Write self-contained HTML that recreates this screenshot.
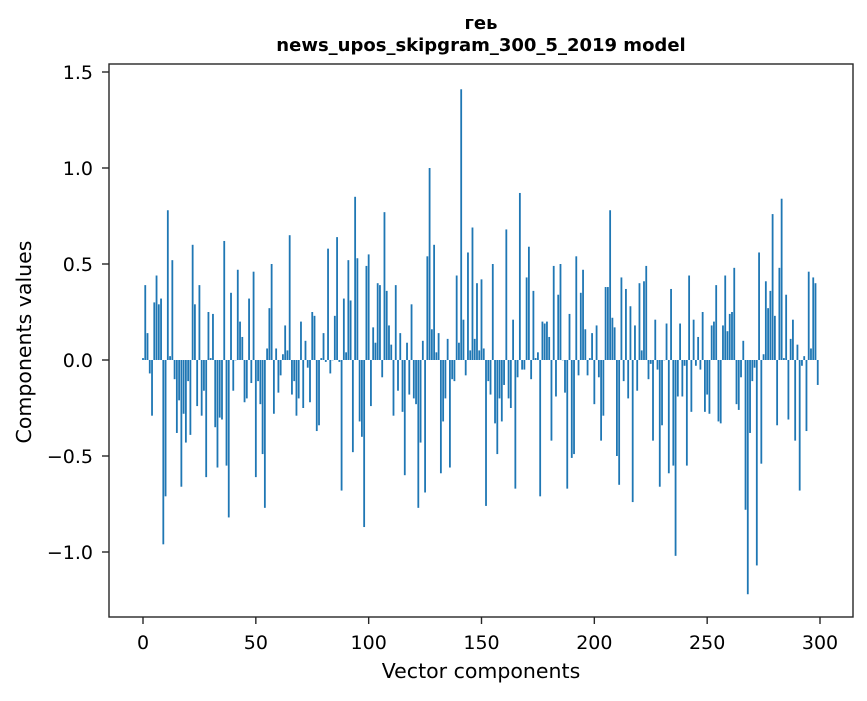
<!DOCTYPE html>
<html><head><meta charset="utf-8"><style>
body{margin:0;background:#fff;}
svg text{font-family:"DejaVu Sans","Liberation Sans",sans-serif;fill:#000;}
</style></head><body>
<svg id="chart" width="867" height="696" viewBox="0 0 867 696" xmlns="http://www.w3.org/2000/svg">
<rect x="0" y="0" width="867" height="696" fill="#fff"/>
<text x="481" y="29" text-anchor="middle" font-size="18" font-weight="bold">геь</text>
<text x="481" y="51" text-anchor="middle" font-size="18" font-weight="bold">news_upos_skipgram_300_5_2019 model</text>
<g id="bars"></g>
<g id="axes"></g>
<rect x="109" y="64" width="744" height="553" fill="none" stroke="#262626" stroke-width="1.4"/>
<text x="481" y="678" text-anchor="middle" font-size="20.5">Vector components</text>
<text transform="translate(31,342) rotate(-90)" text-anchor="middle" font-size="20.5">Components values</text>
</svg>
<script>
const values = [
0.01,0.39,0.14,-0.07,-0.29,0.30,0.44,0.29,0.32,-0.96,
-0.71,0.78,0.02,0.52,-0.10,-0.38,-0.21,-0.66,-0.28,-0.43,
-0.11,-0.39,0.60,0.29,-0.24,0.39,-0.29,-0.16,-0.61,0.25,
0.01,0.24,-0.35,-0.56,-0.30,-0.31,0.62,-0.55,-0.82,0.35,
-0.16,0.00,0.47,0.20,0.12,-0.22,-0.20,0.32,-0.12,0.46,
-0.61,-0.11,-0.23,-0.49,-0.77,0.06,0.27,0.50,-0.28,0.06,
-0.17,-0.08,0.03,0.18,0.05,0.65,-0.18,-0.11,-0.29,-0.20,
0.20,-0.25,0.10,-0.04,-0.22,0.25,0.23,-0.37,-0.34,0.01,
0.14,-0.01,0.58,-0.07,0.00,0.23,0.64,-0.01,-0.68,0.32,
0.04,0.52,0.31,-0.48,0.85,0.53,-0.32,-0.40,-0.87,0.49,
0.55,-0.24,0.17,0.09,0.40,0.39,-0.09,0.77,0.36,0.18,
0.08,-0.29,0.39,-0.16,0.14,-0.27,-0.60,0.09,-0.18,0.29,
-0.20,-0.23,-0.77,-0.43,0.10,-0.69,0.54,1.00,0.16,0.60,
0.04,0.14,-0.59,-0.32,-0.20,0.11,-0.56,-0.10,-0.11,0.44,
0.09,1.41,0.21,-0.08,0.56,0.05,0.69,0.11,0.40,0.05,
0.42,0.06,-0.76,-0.11,-0.18,0.50,-0.33,-0.49,-0.20,-0.32,
-0.13,0.68,-0.20,-0.25,0.21,-0.67,-0.09,0.87,-0.05,-0.05,
0.43,0.59,-0.10,0.36,0.01,0.04,-0.71,0.20,0.19,0.20,
0.12,-0.42,0.49,-0.19,0.34,0.50,0.00,-0.17,-0.67,0.24,
-0.51,-0.49,0.54,-0.08,0.35,0.47,0.16,-0.08,0.01,0.14,
-0.23,0.18,-0.09,-0.42,-0.29,0.38,0.38,0.78,0.22,0.17,
-0.50,-0.65,0.43,-0.11,0.37,-0.20,0.28,-0.74,0.18,-0.16,
0.40,0.05,0.41,0.49,-0.10,-0.02,-0.42,0.21,-0.05,-0.66,
-0.34,0.00,0.19,-0.59,0.37,-0.55,-1.02,-0.19,0.19,-0.19,
-0.03,-0.55,0.44,-0.27,0.21,-0.03,0.12,-0.05,0.25,-0.27,
-0.18,-0.28,0.18,0.20,0.39,-0.32,-0.33,0.18,0.44,0.15,
0.24,0.25,0.48,-0.23,-0.26,-0.09,0.10,-0.78,-1.22,-0.38,
-0.11,-0.04,-1.07,0.56,-0.54,0.03,0.41,0.27,0.36,0.76,
0.23,-0.34,0.48,0.84,0.01,0.34,-0.31,0.11,0.21,-0.42,
0.08,-0.68,-0.03,0.02,-0.37,0.46,0.06,0.43,0.40,-0.13
];
const xTicks = [0,50,100,150,200,250,300];
const yTicks = [-1.0,-0.5,0.0,0.5,1.0,1.5];
const yTickLabels = ["−1.0","−0.5","0.0","0.5","1.0","1.5"];

const NS = "http://www.w3.org/2000/svg";
function xs(v){ return 143 + v*(820-143)/300; }
function ys(v){ return 360 - v*192; }
const barsG = document.getElementById('bars');
const axesG = document.getElementById('axes');
const bw = 0.8;
values.forEach((v,i)=>{
  const r = document.createElementNS(NS,'rect');
  const x0 = xs(i - bw/2), x1 = xs(i + bw/2);
  const y0 = Math.min(ys(v), ys(0)), y1 = Math.max(ys(v), ys(0));
  r.setAttribute('x', x0);
  r.setAttribute('width', x1 - x0);
  r.setAttribute('y', y0);
  r.setAttribute('height', Math.max(y1 - y0, 0.3));
  r.setAttribute('fill', '#1f77b4');
  
  
  barsG.appendChild(r);
});
xTicks.forEach(t=>{
  const l = document.createElementNS(NS,'line');
  l.setAttribute('x1', xs(t)); l.setAttribute('x2', xs(t));
  l.setAttribute('y1', 617); l.setAttribute('y2', 624);
  l.setAttribute('stroke', '#262626');
  l.setAttribute('stroke-width', '1.4');
  
  
  axesG.appendChild(l);
  const tx = document.createElementNS(NS,'text');
  tx.setAttribute('x', xs(t)); tx.setAttribute('y', 649);
  tx.setAttribute('text-anchor', 'middle');
  tx.setAttribute('font-size', '19');
  tx.textContent = t;
  
  
  axesG.appendChild(tx);
});
yTicks.forEach((t,i)=>{
  const l = document.createElementNS(NS,'line');
  l.setAttribute('x1', 102); l.setAttribute('x2', 109);
  l.setAttribute('y1', ys(t)); l.setAttribute('y2', ys(t));
  l.setAttribute('stroke', '#262626');
  l.setAttribute('stroke-width', '1.4');
  
  
  axesG.appendChild(l);
  const tx = document.createElementNS(NS,'text');
  tx.setAttribute('x', 93); tx.setAttribute('y', ys(t) + 7);
  tx.setAttribute('text-anchor', 'end');
  tx.setAttribute('font-size', '19');
  tx.textContent = yTickLabels[i];
  
  
  axesG.appendChild(tx);
});
</script>
</body></html>
